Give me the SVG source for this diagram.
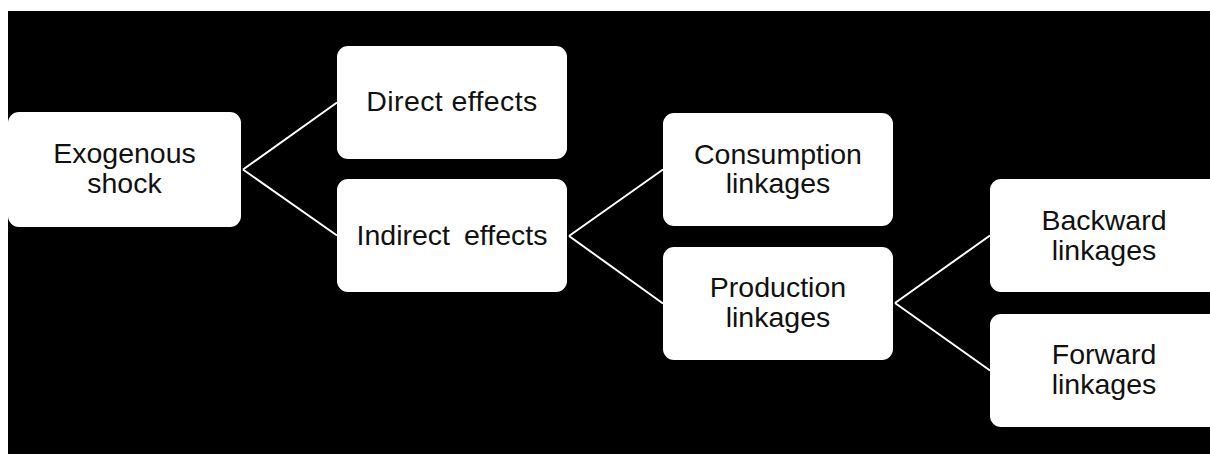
<svg xmlns="http://www.w3.org/2000/svg" width="1210" height="454" viewBox="0 0 1210 454">
  <style>
    .box { fill: #ffffff; }
    .label { font-family: "Liberation Sans", Arial, sans-serif; font-size: 28.5px; fill: #111111; text-anchor: middle; }
    .link { stroke: #ffffff; stroke-width: 2; fill: none; }
  </style>
  <!-- page margin and dark canvas -->
  <rect x="0" y="0" width="1210" height="454" fill="#ffffff"/>
  <rect x="8" y="11" width="1202" height="443" fill="#000000"/>

  <g id="connectors">
    <path class="link" d="M243,169.5 L337,102.5 M243,169.5 L337,235.5"/>
    <path class="link" d="M569,236 L663,169.5 M569,236 L663,303.5"/>
    <path class="link" d="M895,303 L990,235.5 M895,303 L990,370.5"/>
  </g>

  <g id="exogenous-shock">
    <rect class="box" x="8" y="112" width="233" height="115" rx="11"/>
    <text class="label" x="124.5" y="163">Exogenous</text>
    <text class="label" x="124.5" y="193">shock</text>
  </g>

  <g id="direct-effects">
    <rect class="box" x="337" y="46" width="230" height="113" rx="11"/>
    <text class="label" x="452" y="111" letter-spacing="0.4">Direct effects</text>
  </g>

  <g id="indirect-effects">
    <rect class="box" x="337" y="179" width="230" height="113" rx="11"/>
    <text class="label" x="452" y="245" word-spacing="6">Indirect effects</text>
  </g>

  <g id="consumption-linkages">
    <rect class="box" x="663" y="113" width="230" height="113" rx="11"/>
    <text class="label" x="778" y="163.5">Consumption</text>
    <text class="label" x="778" y="193">linkages</text>
  </g>

  <g id="production-linkages">
    <rect class="box" x="663" y="247" width="230" height="113" rx="11"/>
    <text class="label" x="778" y="296.5">Production</text>
    <text class="label" x="778" y="326.5">linkages</text>
  </g>

  <g id="backward-linkages">
    <rect class="box" x="990" y="179" width="230" height="113" rx="11"/>
    <text class="label" x="1104" y="230">Backward</text>
    <text class="label" x="1104" y="260">linkages</text>
  </g>

  <g id="forward-linkages">
    <rect class="box" x="990" y="314" width="230" height="113" rx="11"/>
    <text class="label" x="1104" y="364">Forward</text>
    <text class="label" x="1104" y="393.5">linkages</text>
  </g>
</svg>
